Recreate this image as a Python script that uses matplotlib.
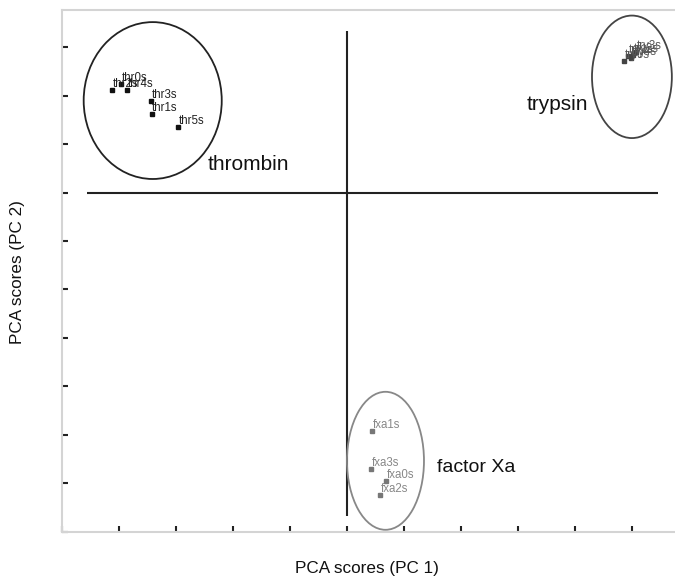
import matplotlib
matplotlib.use("Agg")
import matplotlib.pyplot as plt
from matplotlib.patches import Ellipse

plt.rcParams['font.family'] = ['Liberation Sans', 'DejaVu Sans']

# PCA scores of the individual samples
thr_names = ["thr0s", "thr2s", "thr4s", "thr3s", "thr1s", "thr5s"]
thr_pc1 = [-3.96, -4.12, -3.86, -3.44, -3.43, -2.96]
thr_pc2 = [2.25, 2.11, 2.12, 1.89, 1.62, 1.35]

try_names = ["try0s", "try1s", "try2s", "try4s", "try3s"]
try_pc1 = [4.85, 4.92, 5.01, 4.97, 5.06]
try_pc2 = [2.71, 2.81, 2.85, 2.78, 2.91]

fxa_names = ["fxa1s", "fxa3s", "fxa0s", "fxa2s"]
fxa_pc1 = [0.43, 0.42, 0.68, 0.57]
fxa_pc2 = [-4.92, -5.71, -5.95, -6.25]

# group outlines: centre (PC1, PC2), width, height
groups = ["thrombin", "trypsin", "factor Xa"]
group_center = [(-3.41, 1.90), (4.99, 2.39), (0.67, -5.54)]
group_size = [(2.42, 3.24), (1.40, 2.53), (1.35, 2.85)]
group_label_pos = [(-2.45, 0.58), (3.15, 1.82), (1.58, -5.68)]
group_fontsize = [15, 15, 14]

xticks = list(range(-5, 6))
yticks = list(range(-7, 4))

fig = plt.figure(figsize=(6.75, 5.82), dpi=100)
ax = fig.add_axes([62 / 675, 50.5 / 582, 1 - 62 / 675, (531.5 - 10) / 582])
ax.set_xlim(-5.0, 5.745)
ax.set_ylim(-7.0, 3.77)

# zero axes inside the plot
ax.plot([-4.57, 5.45], [0, 0], color="#222222", lw=1.5, solid_capstyle="butt", zorder=2)
ax.plot([0, 0], [-6.69, 3.33], color="#222222", lw=1.5, solid_capstyle="butt", zorder=2)

styles = [
    (thr_names, thr_pc1, thr_pc2, "#111111", "#222222"),
    (try_names, try_pc1, try_pc2, "#444444", "#555555"),
    (fxa_names, fxa_pc1, fxa_pc2, "#777777", "#888888"),
]
for names, xs, ys, mc, tc in styles:
    ax.plot(xs, ys, "s", ms=2.5, color=mc, zorder=3)
    for n, x, y in zip(names, xs, ys):
        ax.annotate(n, (x, y), xytext=(0.5, 0), textcoords="offset points",
                    fontsize=8.3, color=tc, ha="left", va="bottom")

ell_colors = ["#222222", "#444444", "#888888"]
for g, c, s, lp, ec, fs in zip(groups, group_center, group_size, group_label_pos,
                               ell_colors, group_fontsize):
    ax.add_patch(Ellipse(c, s[0], s[1], fill=False, edgecolor=ec, lw=1.3, zorder=2))
    ax.text(lp[0], lp[1], g, fontsize=fs, color="#111111", ha="left", va="center")

ax.set_xticks(xticks)
ax.set_yticks(yticks)
ax.tick_params(direction="in", length=4, width=1.5, color="#222222",
               labelbottom=False, labelleft=False)
for side in ["left", "bottom", "top"]:
    ax.spines[side].set_color("#d4d4d4")
    ax.spines[side].set_linewidth(1.5)
ax.spines["right"].set_visible(False)

fig.text(367 / 675, 1 - 568 / 582, "PCA scores (PC 1)", fontsize=12.3,
         ha="center", va="center", color="#111111")
fig.text(18 / 675, 1 - 272 / 582, "PCA scores (PC 2)", fontsize=12.3,
         ha="center", va="center", rotation=90, color="#111111")

fig.savefig("out.png", dpi=100)
